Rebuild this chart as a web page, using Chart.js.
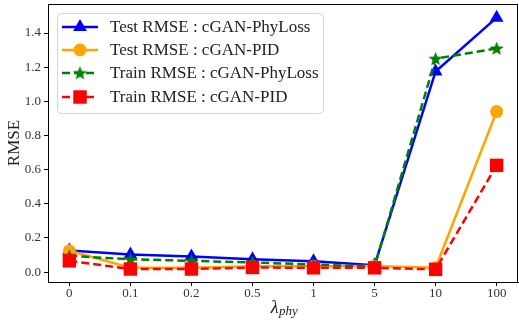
<!DOCTYPE html>
<html>
<head>
<meta charset="utf-8">
<script src="https://cdn.jsdelivr.net/npm/chart.js@4.4.1/dist/chart.umd.min.js"></script>
<style>
  html, body { margin: 0; padding: 0; background: #fff; }
  #wrap { width: 519px; height: 320px; }
</style>
</head>
<body>
<div id="wrap"><canvas id="c" width="519" height="320"></canvas></div>
<script>
// lambda_phy categories
const lambdas = ['0', '0.1', '0.2', '0.5', '1', '5', '10', '100'];
const yTicks = [0, 0.2, 0.4, 0.6, 0.8, 1.0, 1.2, 1.4];

const testPhyLoss  = [0.126, 0.103, 0.092, 0.075, 0.063, 0.04, 1.175, 1.49];
const testPID      = [0.125, 0.025, 0.025, 0.034, 0.034, 0.035, 0.026, 0.94];
const trainPhyLoss = [0.095, 0.075, 0.066, 0.056, 0.045, 0.031, 1.25, 1.31];
const trainPID     = [0.066, 0.018, 0.018, 0.027, 0.025, 0.025, 0.016, 0.625];

const SERIF = "'Liberation Serif', 'DejaVu Serif', serif";

function pts(vals) {
  return vals.map((v, i) => ({ x: i, y: v }));
}

// filled five-point star marker (chart.js 'star' is only stroked)
function makeStar(color, r) {
  const s = Math.ceil(r * 2 + 2);
  const cv = document.createElement('canvas');
  cv.width = s; cv.height = s;
  const g = cv.getContext('2d');
  const cx = s / 2, cy = s / 2 + 0.5;
  g.beginPath();
  for (let k = 0; k < 10; k++) {
    const rr = k % 2 === 0 ? r : r * 0.42;
    const a = -Math.PI / 2 + k * Math.PI / 5;
    g.lineTo(cx + rr * Math.cos(a), cy + rr * Math.sin(a));
  }
  g.closePath();
  g.fillStyle = color;
  g.fill();
  return cv;
}
const starImg = makeStar('#008000', 7.5);

const datasets = [
  { label: 'Test RMSE : cGAN-PhyLoss', data: pts(testPhyLoss), borderColor: '#0000ff', backgroundColor: '#0000ff',
    pointStyle: 'triangle', pointRadius: 8, borderWidth: 2.5, order: 4 },
  { label: 'Test RMSE : cGAN-PID', data: pts(testPID), borderColor: '#ffa500', backgroundColor: '#ffa500',
    pointStyle: 'circle', pointRadius: 6.5, borderWidth: 2.5, order: 3 },
  { label: 'Train RMSE : cGAN-PhyLoss', data: pts(trainPhyLoss), borderColor: '#008000', backgroundColor: '#008000',
    pointStyle: starImg, pointRadius: 8, borderWidth: 2.5, borderDash: [8, 4], order: 2 },
  { label: 'Train RMSE : cGAN-PID', data: pts(trainPID), borderColor: '#ff0000', backgroundColor: '#ff0000',
    pointStyle: 'rect', pointRadius: 9.5, borderWidth: 2.5, borderDash: [8, 4], order: 1 }
];
datasets.forEach(d => {
  d.pointBorderWidth = 0;
  d.pointHoverRadius = d.pointRadius;
  d.tension = 0;
});

// frame, x title with subscript and a matplotlib-like legend
const decor = {
  id: 'decor',
  afterDraw(chart) {
    const { ctx, chartArea: a } = chart;
    ctx.save();
    ctx.strokeStyle = '#000';
    ctx.lineWidth = 1;
    ctx.strokeRect(a.left + 0.5, a.top + 0.5, a.right - a.left - 1, a.bottom - a.top);

    // x axis title: lambda_phy
    ctx.fillStyle = '#222';
    ctx.textBaseline = 'alphabetic';
    ctx.font = 'italic 18px ' + SERIF;
    const lw = ctx.measureText('λ').width;
    ctx.font = 'italic 13px ' + SERIF;
    const sw = ctx.measureText('phy').width;
    const x0 = (a.left + a.right) / 2 - (lw + sw) / 2 + 1;
    ctx.font = 'italic 18px ' + SERIF;
    ctx.fillText('λ', x0, 313);
    ctx.font = 'italic 13px ' + SERIF;
    ctx.fillText('phy', x0 + lw + 0.5, 315);

    // legend
    const bx = 57, by = 13, bw = 266, bh = 100;
    ctx.beginPath();
    ctx.roundRect(bx + 0.5, by + 0.5, bw, bh, 4);
    ctx.fillStyle = 'rgba(255,255,255,0.8)';
    ctx.fill();
    ctx.strokeStyle = '#d6d6d6';
    ctx.stroke();
    const rows = [27, 50, 73, 97];
    chart.data.datasets.forEach((d, i) => {
      const y = rows[i];
      ctx.beginPath();
      ctx.setLineDash(d.borderDash || []);
      ctx.strokeStyle = d.borderColor;
      ctx.lineWidth = d.borderWidth;
      ctx.moveTo(62, y);
      ctx.lineTo(98, y);
      ctx.stroke();
      ctx.setLineDash([]);
      ctx.fillStyle = d.backgroundColor;
      Chart.helpers.drawPoint(ctx, { pointStyle: d.pointStyle, radius: d.pointRadius, borderWidth: 0, rotation: 0 }, 80, y);
      ctx.fillStyle = '#222';
      ctx.font = '17px ' + SERIF;
      ctx.textBaseline = 'middle';
      ctx.fillText(d.label, 110, y + 1);
    });
    ctx.restore();
  }
};

new Chart(document.getElementById('c'), {
  type: 'line',
  data: { datasets },
  plugins: [decor],
  options: {
    responsive: false,
    animation: false,
    devicePixelRatio: 1,
    layout: { autoPadding: false, padding: { top: 4, right: 1, left: 0, bottom: 0 } },
    plugins: { legend: { display: false }, tooltip: { enabled: false } },
    scales: {
      x: {
        type: 'linear',
        min: -0.35,
        max: 7.35,
        afterBuildTicks: s => { s.ticks = lambdas.map((_, i) => ({ value: i })); },
        afterFit: s => { s.height = 38; s.paddingLeft = 0; s.paddingRight = 0; },
        ticks: {
          callback: v => lambdas[v],
          color: '#333',
          font: { family: SERIF, size: 13 },
          padding: 0,
          maxRotation: 0,
          autoSkip: false
        },
        grid: { drawOnChartArea: false, color: '#000', tickLength: 4 },
        border: { color: '#000', width: 1 }
      },
      y: {
        min: -0.058,
        max: 1.57,
        afterBuildTicks: s => { s.ticks = yTicks.map(v => ({ value: v })); },
        afterFit: s => { s.width = 48; s.paddingTop = 0; s.paddingBottom = 0; },
        ticks: {
          callback: v => v.toFixed(1),
          color: '#333',
          font: { family: SERIF, size: 13 },
          padding: 3
        },
        grid: { drawOnChartArea: false, color: '#000', tickLength: 4 },
        border: { color: '#000', width: 1 },
        title: {
          display: true,
          text: 'RMSE',
          color: '#222',
          font: { family: SERIF, size: 17 },
          padding: { top: 4, bottom: 0 }
        }
      }
    }
  }
});
</script>
</body>
</html>
